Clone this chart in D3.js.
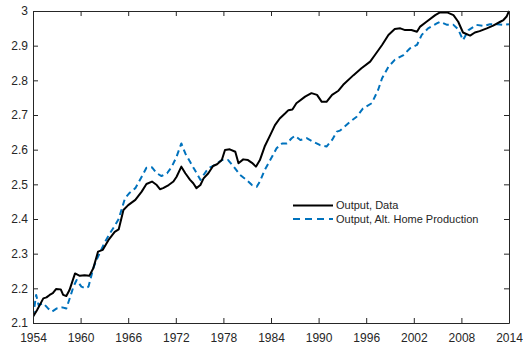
<!DOCTYPE html>
<html>
<head>
<meta charset="utf-8">
<script src="https://cdn.jsdelivr.net/npm/d3@7"></script>
<style>
  html, body { margin: 0; padding: 0; background: #fff; }
  svg { display: block; }
  text { font-family: "Liberation Sans", Arial, Helvetica, sans-serif; fill: #262626; }
</style>
</head>
<body>
<svg id="chart" width="523" height="352"></svg>
<script>
// Output, Data (log scale), sampled by year
const dataYears = [1954.0, 1954.5, 1955.3, 1955.7, 1956.1, 1956.5, 1956.9, 1957.5, 1957.8, 1958.2, 1958.6, 1959.3, 1959.9, 1960.5, 1961.1, 1961.6, 1962.2, 1962.8, 1963.5, 1964.3, 1964.8, 1965.4, 1966.0, 1966.9, 1967.7, 1968.3, 1969.0, 1969.6, 1970.0, 1970.4, 1971.1, 1971.7, 1972.1, 1972.7, 1973.2, 1973.8, 1974.2, 1974.6, 1975.1, 1975.5, 1976.1, 1976.7, 1977.2, 1977.8, 1978.2, 1978.8, 1979.5, 1979.9, 1980.5, 1981.1, 1981.6, 1982.1, 1982.6, 1983.2, 1983.9, 1984.5, 1985.1, 1985.8, 1986.2, 1986.7, 1987.2, 1988.3, 1989.1, 1989.8, 1990.4, 1991.0, 1991.7, 1992.5, 1993.1, 1994.4, 1995.4, 1996.5, 1997.1, 1998.0, 1998.8, 1999.6, 2000.3, 2000.9, 2001.7, 2002.4, 2002.8, 2003.6, 2004.7, 2005.3, 2006.2, 2007.0, 2007.6, 2008.2, 2009.1, 2009.7, 2010.3, 2011.2, 2012.0, 2012.9, 2013.3, 2013.7, 2014.0];
const dataValues = [2.118, 2.137, 2.171, 2.174, 2.181, 2.186, 2.198, 2.197, 2.181, 2.178, 2.195, 2.243, 2.236, 2.238, 2.236, 2.258, 2.306, 2.311, 2.339, 2.363, 2.370, 2.426, 2.440, 2.455, 2.479, 2.501, 2.508, 2.498, 2.486, 2.489, 2.498, 2.508, 2.522, 2.551, 2.532, 2.513, 2.503, 2.489, 2.498, 2.517, 2.532, 2.553, 2.558, 2.570, 2.599, 2.601, 2.594, 2.561, 2.572, 2.570, 2.562, 2.551, 2.570, 2.609, 2.642, 2.671, 2.690, 2.705, 2.714, 2.716, 2.734, 2.753, 2.763, 2.758, 2.738, 2.738, 2.758, 2.770, 2.787, 2.815, 2.835, 2.854, 2.873, 2.902, 2.931, 2.948, 2.950, 2.945, 2.945, 2.940, 2.955, 2.969, 2.988, 2.996, 2.996, 2.988, 2.969, 2.938, 2.929, 2.938, 2.942, 2.950, 2.958, 2.969, 2.974, 2.984, 3.000];

// Output, Alt. Home Production
const altYears = [1954.0, 1954.4, 1954.7, 1955.3, 1955.9, 1956.4, 1957.0, 1957.7, 1958.2, 1958.7, 1959.1, 1959.5, 1960.1, 1960.6, 1961.0, 1961.6, 1962.0, 1963.1, 1963.7, 1964.3, 1964.8, 1965.6, 1966.2, 1966.9, 1967.7, 1968.3, 1969.0, 1969.6, 1970.2, 1970.9, 1971.5, 1972.1, 1972.7, 1973.2, 1973.8, 1974.4, 1975.1, 1975.5, 1976.1, 1976.7, 1977.8, 1978.6, 1979.3, 1980.1, 1980.9, 1981.6, 1982.2, 1982.6, 1983.2, 1983.9, 1984.7, 1985.4, 1986.0, 1986.6, 1987.0, 1987.7, 1988.5, 1989.3, 1990.2, 1991.0, 1991.7, 1992.3, 1992.7, 1994.0, 1994.8, 1995.6, 1996.7, 1997.5, 1998.0, 1998.8, 1999.6, 2000.7, 2001.5, 2002.4, 2003.0, 2003.8, 2004.9, 2005.3, 2006.2, 2007.0, 2007.6, 2008.2, 2008.9, 2009.9, 2010.8, 2011.6, 2012.5, 2013.3, 2014.0];
const altValues = [2.118, 2.181, 2.152, 2.157, 2.142, 2.133, 2.142, 2.145, 2.142, 2.176, 2.205, 2.224, 2.205, 2.200, 2.205, 2.258, 2.282, 2.335, 2.359, 2.380, 2.400, 2.460, 2.476, 2.489, 2.522, 2.548, 2.549, 2.532, 2.524, 2.532, 2.551, 2.580, 2.618, 2.589, 2.565, 2.541, 2.513, 2.527, 2.546, 2.553, 2.570, 2.570, 2.551, 2.527, 2.513, 2.498, 2.493, 2.508, 2.541, 2.570, 2.604, 2.618, 2.618, 2.633, 2.640, 2.628, 2.633, 2.623, 2.613, 2.609, 2.628, 2.652, 2.655, 2.681, 2.695, 2.719, 2.734, 2.772, 2.806, 2.839, 2.859, 2.873, 2.892, 2.902, 2.931, 2.950, 2.964, 2.969, 2.960, 2.960, 2.947, 2.916, 2.945, 2.960, 2.957, 2.962, 2.962, 2.960, 2.962];

const xTicks = [1954, 1960, 1966, 1972, 1978, 1984, 1990, 1996, 2002, 2008, 2014];
const yTicks = [2.1, 2.2, 2.3, 2.4, 2.5, 2.6, 2.7, 2.8, 2.9, 3.0];
const seriesNames = ["Output, Data", "Output, Alt. Home Production"];
const seriesColors = ["#000000", "#0072BD"];

const margin = { left: 33, right: 14, top: 11, bottom: 29 };
const W = 523, H = 352;
const svg = d3.select("#chart");

const x = d3.scaleLinear().domain([1954, 2014]).range([margin.left, W - margin.right]);
const y = d3.scaleLinear().domain([2.1, 3.0]).range([H - margin.bottom, margin.top]);

const axisColor = "#262626";
const tickLen = 5;

// series lines (clipped to the plot box)
svg.append("clipPath").attr("id", "plotClip")
  .append("rect")
  .attr("x", margin.left).attr("y", margin.top - 2)
  .attr("width", x(2014) - x(1954) + 1).attr("height", y(2.1) - y(3.0) + 3);

const line = d3.line().x(d => x(d[0])).y(d => y(d[1]));
const plot = svg.append("g").attr("clip-path", "url(#plotClip)");

plot.append("path")
  .datum(d3.zip(altYears, altValues))
  .attr("d", line)
  .attr("fill", "none")
  .attr("stroke", seriesColors[1])
  .attr("stroke-width", 2)
  .attr("stroke-dasharray", "6,4")
  .attr("stroke-linejoin", "round");

plot.append("path")
  .datum(d3.zip(dataYears, dataValues))
  .attr("d", line)
  .attr("fill", "none")
  .attr("stroke", seriesColors[0])
  .attr("stroke-width", 2)
  .attr("stroke-linejoin", "round");

// axes: bottom / left with labels, top / right as box with inward ticks
function styleAxis(g) {
  g.select(".domain").attr("stroke", axisColor).attr("stroke-width", 1);
  g.selectAll(".tick line").attr("stroke", axisColor).attr("stroke-width", 1);
  g.selectAll(".tick text").attr("fill", axisColor).style("font-size", "12px")
    .style("font-family", '"Liberation Sans", Arial, sans-serif');
}

svg.append("g")
  .attr("transform", `translate(0,${y(2.1)})`)
  .call(d3.axisBottom(x).tickValues(xTicks).tickFormat(d3.format("d"))
    .tickSizeInner(-tickLen).tickSizeOuter(0).tickPadding(10))
  .call(styleAxis);

svg.append("g")
  .attr("transform", `translate(${x(1954)},0)`)
  .call(d3.axisLeft(y).tickValues(yTicks).tickFormat(d => d === 3 ? "3" : d3.format(".1f")(d))
    .tickSizeInner(-tickLen).tickSizeOuter(0).tickPadding(5))
  .call(styleAxis);

svg.append("g")
  .attr("transform", `translate(0,${y(3.0)})`)
  .call(d3.axisTop(x).tickValues(xTicks).tickFormat("")
    .tickSizeInner(-tickLen).tickSizeOuter(0))
  .call(styleAxis);

svg.append("g")
  .attr("transform", `translate(${x(2014)},0)`)
  .call(d3.axisRight(y).tickValues(yTicks).tickFormat("")
    .tickSizeInner(-tickLen).tickSizeOuter(0))
  .call(styleAxis);

// legend
const legend = svg.append("g");
const legendRows = [205.5, 219];
seriesNames.forEach((name, i) => {
  const ly = legendRows[i];
  legend.append("line")
    .attr("x1", 293).attr("x2", 333).attr("y1", ly).attr("y2", ly)
    .attr("stroke", seriesColors[i]).attr("stroke-width", 2)
    .attr("stroke-dasharray", i === 1 ? "7,5" : null);
  legend.append("text")
    .attr("x", 336).attr("y", ly).attr("dy", "0.35em")
    .style("font-size", "11px")
    .text(name);
});
</script>
</body>
</html>
